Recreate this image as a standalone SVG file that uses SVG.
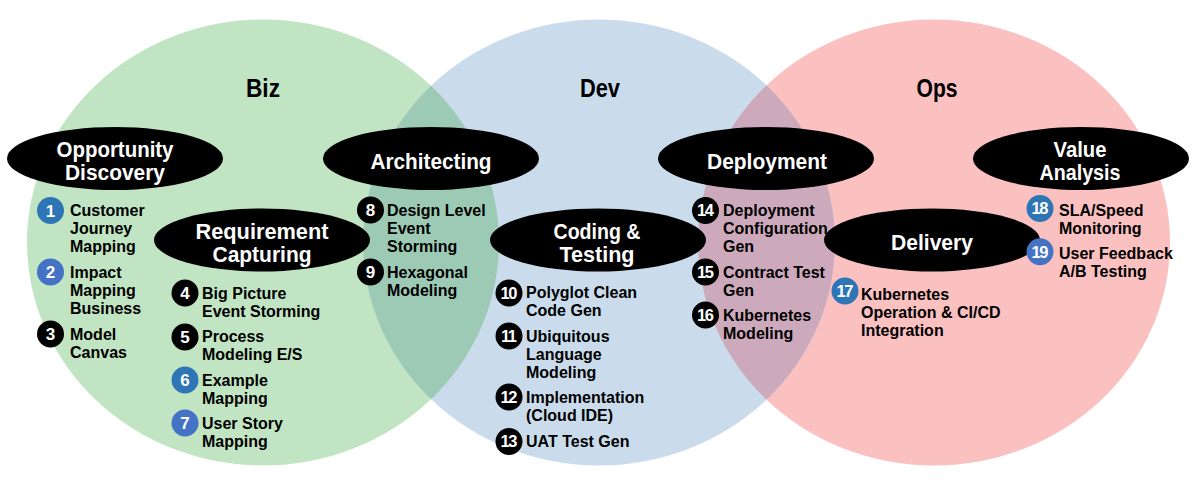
<svg xmlns="http://www.w3.org/2000/svg" width="1195" height="487" viewBox="0 0 1195 487">
<style>
.t{font-family:"Liberation Sans",Arial,sans-serif;font-weight:bold}
.ttl{font-size:26px;fill:#000;text-anchor:middle}
.hd{font-size:22px;fill:#fff;text-anchor:middle}
.it{font-size:16px;fill:#000}
.num{font-size:17px;fill:#fff;text-anchor:middle}
.num2{font-size:16.5px;fill:#fff;text-anchor:middle;letter-spacing:-1.6px}
.pill{fill:#000}
.k{fill:#000}
.b1{fill:#2e75b6}
.b2{fill:#4472c4}
</style>
<defs>
<clipPath id="clipG"><ellipse cx="263" cy="242.5" rx="236" ry="223"/></clipPath>
<clipPath id="clipR"><ellipse cx="934" cy="242.5" rx="236" ry="223"/></clipPath>
</defs>
<rect width="1195" height="487" fill="#fff"/>
<g id="venn">
<ellipse cx="263" cy="242.5" rx="236" ry="223" fill="#c1e5c3"/>
<ellipse cx="934" cy="242.5" rx="236" ry="223" fill="#fbc0c0"/>
<ellipse cx="599" cy="242.5" rx="236" ry="223" fill="#cadcec"/>
<ellipse cx="599" cy="242.5" rx="236" ry="223" fill="#9ccab4" clip-path="url(#clipG)"/>
<ellipse cx="599" cy="242.5" rx="236" ry="223" fill="#cdaabb" clip-path="url(#clipR)"/>
<text class="t ttl" x="263" y="97" textLength="34" lengthAdjust="spacingAndGlyphs">Biz</text>
<text class="t ttl" x="600" y="97" textLength="40" lengthAdjust="spacingAndGlyphs">Dev</text>
<text class="t ttl" x="937" y="97" textLength="41" lengthAdjust="spacingAndGlyphs">Ops</text>
</g>
<g id="connectors"></g>
<g id="opportunity-discovery">
<ellipse class="pill" cx="115" cy="158.5" rx="108" ry="31.5"/>
<text class="t hd" x="115" y="157" textLength="117" lengthAdjust="spacingAndGlyphs">Opportunity</text>
<text class="t hd" x="115" y="180" textLength="100" lengthAdjust="spacingAndGlyphs">Discovery</text>
</g>
<g id="requirement-capturing">
<ellipse class="pill" cx="262" cy="240" rx="108" ry="31.5"/>
<text class="t hd" x="262" y="238.5" textLength="133" lengthAdjust="spacingAndGlyphs">Requirement</text>
<text class="t hd" x="262" y="262" textLength="99" lengthAdjust="spacingAndGlyphs">Capturing</text>
</g>
<g id="architecting">
<ellipse class="pill" cx="431" cy="158.5" rx="108" ry="31.5"/>
<text class="t hd" x="431" y="169" textLength="121" lengthAdjust="spacingAndGlyphs">Architecting</text>
</g>
<g id="coding-testing">
<ellipse class="pill" cx="598" cy="240" rx="108" ry="31.5"/>
<text class="t hd" x="597" y="238.5" textLength="87" lengthAdjust="spacingAndGlyphs">Coding &amp;</text>
<text class="t hd" x="597" y="262" textLength="75" lengthAdjust="spacingAndGlyphs">Testing</text>
</g>
<g id="deployment">
<ellipse class="pill" cx="766" cy="158.5" rx="108" ry="31.5"/>
<text class="t hd" x="767" y="168.5" textLength="120" lengthAdjust="spacingAndGlyphs">Deployment</text>
</g>
<g id="delivery">
<ellipse class="pill" cx="932" cy="240" rx="108" ry="31.5"/>
<text class="t hd" x="932" y="250" textLength="82" lengthAdjust="spacingAndGlyphs">Delivery</text>
</g>
<g id="value-analysis">
<ellipse class="pill" cx="1081" cy="158.5" rx="108" ry="31.5"/>
<text class="t hd" x="1080" y="157" textLength="53" lengthAdjust="spacingAndGlyphs">Value</text>
<text class="t hd" x="1080" y="180" textLength="81" lengthAdjust="spacingAndGlyphs">Analysis</text>
</g>
<g id="item-1"><circle class="b1" cx="50.5" cy="210.5" r="13.5"/><text class="t num" x="50.5" y="216.5">1</text>
<text class="t it" x="70" y="216"><tspan x="70">Customer</tspan><tspan x="70" dy="18">Journey</tspan><tspan x="70" dy="18">Mapping</tspan></text></g>
<g id="item-2"><circle class="b2" cx="50.5" cy="272" r="13.5"/><text class="t num" x="50.5" y="278">2</text>
<text class="t it" x="70" y="278"><tspan x="70">Impact</tspan><tspan x="70" dy="18">Mapping</tspan><tspan x="70" dy="18">Business</tspan></text></g>
<g id="item-3"><circle class="k" cx="50.5" cy="334" r="13.5"/><text class="t num" x="50.5" y="340">3</text>
<text class="t it" x="70" y="340"><tspan x="70">Model</tspan><tspan x="70" dy="18">Canvas</tspan></text></g>
<g id="item-4"><circle class="k" cx="185" cy="293" r="13.5"/><text class="t num" x="185" y="299">4</text>
<text class="t it" x="202" y="298.5"><tspan x="202">Big Picture</tspan><tspan x="202" dy="18">Event Storming</tspan></text></g>
<g id="item-5"><circle class="k" cx="185" cy="337" r="13.5"/><text class="t num" x="185" y="343">5</text>
<text class="t it" x="202" y="342"><tspan x="202">Process</tspan><tspan x="202" dy="18">Modeling E/S</tspan></text></g>
<g id="item-6"><circle class="b1" cx="185" cy="380" r="13.5"/><text class="t num" x="185" y="386">6</text>
<text class="t it" x="202" y="386"><tspan x="202">Example</tspan><tspan x="202" dy="18">Mapping</tspan></text></g>
<g id="item-7"><circle class="b2" cx="185" cy="423" r="13.5"/><text class="t num" x="185" y="429">7</text>
<text class="t it" x="202" y="429"><tspan x="202">User Story</tspan><tspan x="202" dy="18">Mapping</tspan></text></g>
<g id="item-8"><circle class="k" cx="370.5" cy="210" r="13.5"/><text class="t num" x="370.5" y="216">8</text>
<text class="t it" x="387" y="216"><tspan x="387">Design Level</tspan><tspan x="387" dy="18">Event</tspan><tspan x="387" dy="18">Storming</tspan></text></g>
<g id="item-9"><circle class="k" cx="370.5" cy="272" r="13.5"/><text class="t num" x="370.5" y="278">9</text>
<text class="t it" x="387" y="278"><tspan x="387">Hexagonal</tspan><tspan x="387" dy="18">Modeling</tspan></text></g>
<g id="item-10"><circle class="k" cx="509" cy="293" r="13.5"/><text class="t num2" x="508.2" y="298.8">10</text>
<text class="t it" x="526" y="298"><tspan x="526">Polyglot Clean</tspan><tspan x="526" dy="18">Code Gen</tspan></text></g>
<g id="item-11"><circle class="k" cx="509" cy="336" r="13.5"/><text class="t num2" x="508.2" y="341.8">11</text>
<text class="t it" x="526" y="342"><tspan x="526">Ubiquitous</tspan><tspan x="526" dy="18">Language</tspan><tspan x="526" dy="18">Modeling</tspan></text></g>
<g id="item-12"><circle class="k" cx="509" cy="397" r="13.5"/><text class="t num2" x="508.2" y="402.8">12</text>
<text class="t it" x="526" y="403"><tspan x="526">Implementation</tspan><tspan x="526" dy="18">(Cloud IDE)</tspan></text></g>
<g id="item-13"><circle class="k" cx="509" cy="441.5" r="13.5"/><text class="t num2" x="508.2" y="447.3">13</text>
<text class="t it" x="526" y="447">UAT Test Gen</text></g>
<g id="item-14"><circle class="k" cx="705.5" cy="210.5" r="13.5"/><text class="t num2" x="704.7" y="216.3">14</text>
<text class="t it" x="723" y="216"><tspan x="723">Deployment</tspan><tspan x="723" dy="18">Configuration</tspan><tspan x="723" dy="18">Gen</tspan></text></g>
<g id="item-15"><circle class="k" cx="705.5" cy="272" r="13.5"/><text class="t num2" x="704.7" y="277.8">15</text>
<text class="t it" x="723" y="278"><tspan x="723">Contract Test</tspan><tspan x="723" dy="18">Gen</tspan></text></g>
<g id="item-16"><circle class="k" cx="705.5" cy="315" r="13.5"/><text class="t num2" x="704.7" y="320.8">16</text>
<text class="t it" x="723" y="321"><tspan x="723">Kubernetes</tspan><tspan x="723" dy="18">Modeling</tspan></text></g>
<g id="item-17"><circle class="b1" cx="845" cy="291" r="13.5"/><text class="t num2" x="844.2" y="296.8">17</text>
<text class="t it" x="861" y="300"><tspan x="861">Kubernetes</tspan><tspan x="861" dy="18">Operation &amp; CI/CD</tspan><tspan x="861" dy="18">Integration</tspan></text></g>
<g id="item-18"><circle class="b1" cx="1040" cy="208.5" r="13.5"/><text class="t num2" x="1039.2" y="214.3">18</text>
<text class="t it" x="1059" y="216"><tspan x="1059">SLA/Speed</tspan><tspan x="1059" dy="18">Monitoring</tspan></text></g>
<g id="item-19"><circle class="b2" cx="1040" cy="251.7" r="13.5"/><text class="t num2" x="1039.2" y="257.5">19</text>
<text class="t it" x="1059" y="259"><tspan x="1059">User Feedback</tspan><tspan x="1059" dy="18">A/B Testing</tspan></text></g>
</svg>
